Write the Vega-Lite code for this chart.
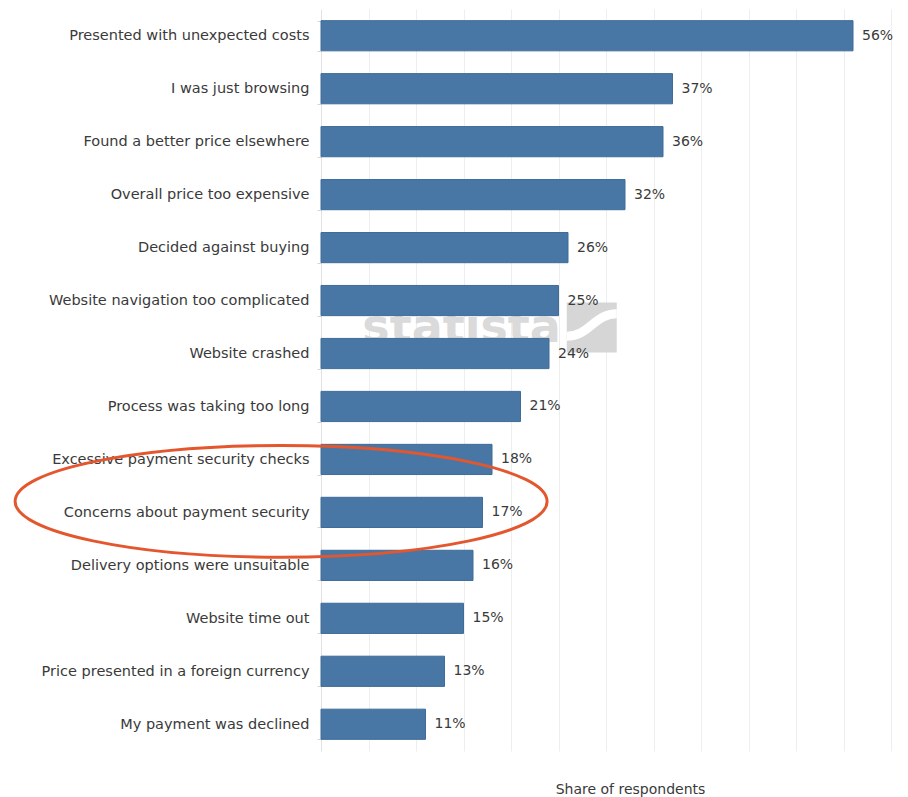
{
  "$schema": "https://vega.github.io/schema/vega-lite/v6.json",
  "width": 570,
  "height": 742,
  "autosize": {"type": "none"},
  "padding": {"left": 321, "top": 9, "right": 17, "bottom": 46},
  "background": "white",
  "config": {"view": {"stroke": null}, "font": "DejaVu Sans"},
  "datasets": {
    "main": [
      {"reason": "Presented with unexpected costs", "share": 56, "label": "56%"},
      {"reason": "I was just browsing", "share": 37, "label": "37%"},
      {"reason": "Found a better price elsewhere", "share": 36, "label": "36%"},
      {"reason": "Overall price too expensive", "share": 32, "label": "32%"},
      {"reason": "Decided against buying", "share": 26, "label": "26%"},
      {"reason": "Website navigation too complicated", "share": 25, "label": "25%"},
      {"reason": "Website crashed", "share": 24, "label": "24%"},
      {"reason": "Process was taking too long", "share": 21, "label": "21%"},
      {"reason": "Excessive payment security checks", "share": 18, "label": "18%"},
      {"reason": "Concerns about payment security", "share": 17, "label": "17%"},
      {"reason": "Delivery options were unsuitable", "share": 16, "label": "16%"},
      {"reason": "Website time out", "share": 15, "label": "15%"},
      {"reason": "Price presented in a foreign currency", "share": 13, "label": "13%"},
      {"reason": "My payment was declined", "share": 11, "label": "11%"}
    ],
    "watermark": [
      {"reason": "Website navigation too complicated", "x": 14.8, "text": "statista"}
    ],
    "logo": [
      {"reason": "Website navigation too complicated", "x": 28.5}
    ],
    "highlight": [
      {"reason": "Concerns about payment security", "x": -4.2}
    ]
  },
  "encoding": {
    "y": {
      "field": "reason",
      "type": "nominal",
      "scale": {
        "domain": [
          "Presented with unexpected costs",
          "I was just browsing",
          "Found a better price elsewhere",
          "Overall price too expensive",
          "Decided against buying",
          "Website navigation too complicated",
          "Website crashed",
          "Process was taking too long",
          "Excessive payment security checks",
          "Concerns about payment security",
          "Delivery options were unsuitable",
          "Website time out",
          "Price presented in a foreign currency",
          "My payment was declined"
        ],
        "paddingInner": 0.43,
        "paddingOuter": 0.22
      },
      "axis": {
        "title": null,
        "labelFontSize": 14.5,
        "labelColor": "#3a3a3a",
        "labelPadding": 8,
        "labelLimit": 320,
        "tickBand": "extent",
        "tickSize": 4,
        "tickColor": "#d4d4d4",
        "domainColor": "#e2e2e2",
        "grid": false
      }
    }
  },
  "layer": [
    {
      "data": {"name": "main"},
      "mark": {"type": "bar", "opacity": 0},
      "encoding": {
        "x": {
          "field": "share",
          "type": "quantitative",
          "scale": {"domain": [0, 60], "nice": false, "clamp": false},
          "axis": {
            "values": [5, 10, 15, 20, 25, 30, 35, 40, 45, 50, 55, 60],
            "labels": false,
            "ticks": false,
            "domain": false,
            "grid": true,
            "gridColor": "#eeeeee",
            "gridWidth": 1,
            "title": "Share of respondents",
            "titleFontSize": 14,
            "titleFontWeight": "normal",
            "titleColor": "#3a3a3a",
            "titleX": 309,
            "titleY": 38,
            "titleBaseline": "middle"
          }
        }
      }
    },
    {
      "data": {"name": "watermark"},
      "mark": {"type": "text", "fontSize": 46, "fontWeight": "bold", "color": "#dadada", "font": "DejaVu Sans", "yOffset": 27, "align": "center", "baseline": "middle"},
      "encoding": {
        "x": {"field": "x", "type": "quantitative"},
        "text": {"field": "text"}
      }
    },
    {
      "data": {"name": "logo"},
      "mark": {"type": "point", "shape": "square", "filled": true, "color": "#d6d6d6", "opacity": 1, "size": 2500, "yOffset": 27},
      "encoding": {
        "x": {"field": "x", "type": "quantitative"}
      }
    },
    {
      "data": {"name": "logo"},
      "mark": {"type": "point", "shape": "M -1 0.35 C -0.1 0.35 0.1 -0.55 1 -0.55", "filled": false, "color": "white", "strokeWidth": 9, "opacity": 1, "size": 2500, "yOffset": 27},
      "encoding": {
        "x": {"field": "x", "type": "quantitative"}
      }
    },
    {
      "data": {"name": "main"},
      "mark": {"type": "bar", "color": "#4877a6", "stroke": "#3f6c99", "strokeWidth": 1},
      "encoding": {
        "x": {"field": "share", "type": "quantitative"}
      }
    },
    {
      "data": {"name": "main"},
      "mark": {"type": "text", "align": "left", "baseline": "middle", "dx": 9, "fontSize": 14, "color": "#3a3a3a", "font": "DejaVu Sans"},
      "encoding": {
        "x": {"field": "share", "type": "quantitative"},
        "text": {"field": "label"}
      }
    },
    {
      "data": {"name": "highlight"},
      "mark": {"type": "point", "shape": "M -1 0 A 1 0.21 0 1 0 1 0 A 1 0.21 0 1 0 -1 0 Z", "filled": false, "color": "#e4572e", "strokeWidth": 3, "opacity": 1, "size": 283024, "yOffset": -11, "clip": false},
      "encoding": {
        "x": {"field": "x", "type": "quantitative"}
      }
    }
  ]
}
